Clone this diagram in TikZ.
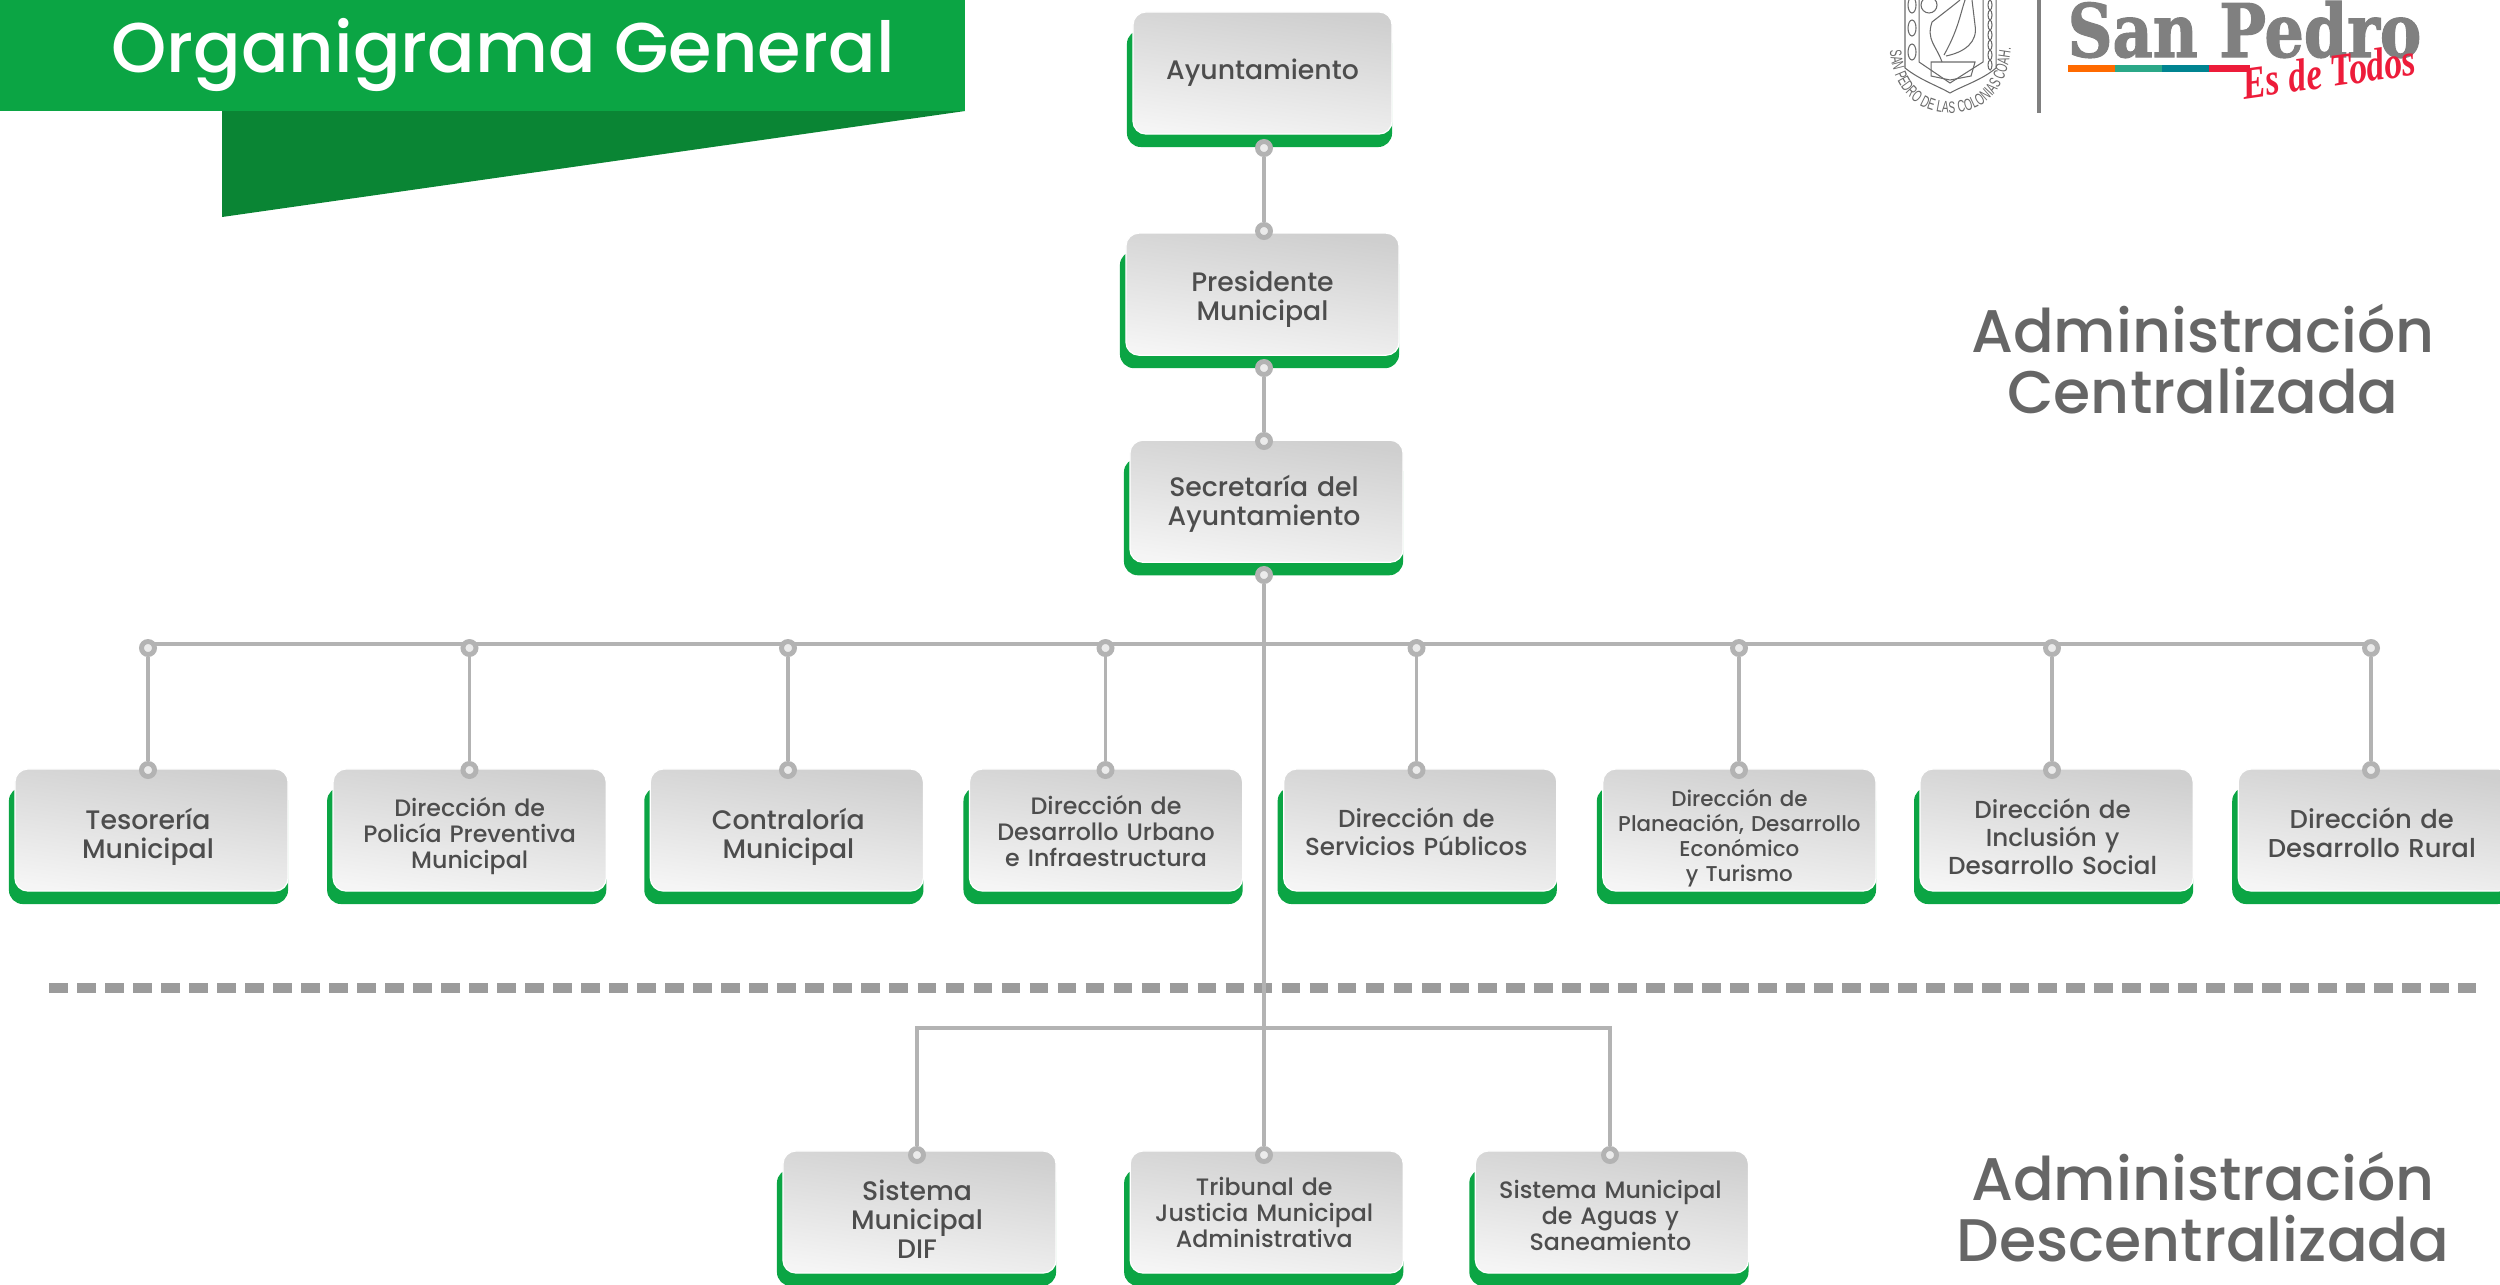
\documentclass[tikz,border=0pt]{standalone}
\usepackage{fontspec}
\setmainfont{Poppins Medium}
\newfontfamily\slabfont[FakeStretch=0.84,FakeBold=1.5]{DejaVu Serif}
\newfontfamily\todosfont[FakeStretch=0.78]{Liberation Serif}
\newfontfamily\sealfont[FakeStretch=0.62]{Liberation Sans}
\usepackage{xcolor}
\usetikzlibrary{positioning, calc, backgrounds, decorations.text}
\definecolor{sanpgreen}{HTML}{0BA544}
\definecolor{sanpdark}{HTML}{0A8534}
\definecolor{cardtext}{HTML}{4D4D4D}
\definecolor{linegray}{HTML}{B3B3B3}
\definecolor{dashgray}{HTML}{9B9B9B}
\definecolor{labelgray}{HTML}{666666}
\definecolor{logogray}{HTML}{808080}
\definecolor{logored}{HTML}{ED1C3A}
\definecolor{logoorange}{HTML}{FF6A00}
\definecolor{logoteal}{HTML}{2BA888}
\definecolor{logopetrol}{HTML}{008491}
\definecolor{sealgray}{HTML}{6A6A6A}
\tikzset{
    card/.style={draw=white, line width=0.35pt, rounded corners=0.13cm, outer sep=0pt, shade, shading=axis,
        top color=black!19, bottom color=black!4, shading angle=-8, text=cardtext,
        minimum width=2.73cm, minimum height=1.22cm, inner xsep=0pt, inner ysep=0pt, align=center},
    cardL/.style={card, font=\fontsize{7.6}{8.25}\selectfont},
    cardR/.style={card, font=\fontsize{7.35}{8.2}\selectfont},
    cardM/.style={card, font=\fontsize{7}{7.9}\selectfont},
    cardS/.style={card, font=\fontsize{6.75}{7.4}\selectfont},
    cardXS/.style={card, font=\fontsize{6.1}{7.1}\selectfont},
    cardpos/.style 2 args={text width=2.73cm, execute at begin node={\advance\rightskip by #1\rule{0pt}{#2}}},
    dot/.style={circle, draw=linegray, line width=1.4pt, fill=black!8, minimum size=0.13cm, inner sep=0pt},
    link/.style={draw=linegray, line width=1.1pt},
    biglabel/.style={text=labelgray, align=center, font=\fontsize{17.1}{17.4}\selectfont},
    sealline/.style={draw=sealgray, line width=0.3pt}
}
\begin{document}
\begin{tikzpicture}[x=0.01cm, y=-0.01cm]
    \useasboundingbox (0,0) rectangle (2500,1284);

    % banner
    \fill[sanpdark] (222,111) -- (965,111) -- (222,217) -- cycle;
    \fill[sanpgreen] (0,0) rectangle (965,111);
    \node[text=white, font=\fontsize{20}{22}\selectfont, anchor=base] (title) at (503,72) {Organigrama General};

    % seal
    \draw[sealline] (1905,0) -- (1905,68) .. controls (1920,80) and (1938,86) .. (1950,93) .. controls (1962,86) and (1982,80) .. (1996,68) -- (1996,0);
    \draw[sealline] (1919,0) -- (1919,62) -- (1950,83) -- (1983,62) -- (1983,0);
    \draw[sealline] (1929,5) circle (8);
    \draw[sealline] (1942,62) .. controls (1936,45) and (1926,40) .. (1932,22) -- (1950,8) -- (1960,0);
    \draw[sealline] (1944,55) .. controls (1958,30) and (1960,15) .. (1965,0);
    \draw[sealline] (1946,56) .. controls (1965,52) and (1978,42) .. (1975,25) -- (1972,0);
    \draw[sealline] (1931,62) -- (1975,62) -- (1971,76) -- (1950,80) -- (1931,76) -- cycle;
    \foreach \sy in {5,28,52} \draw[sealline] (1912,\sy) ellipse (4 and 8);
    \foreach \sy in {5,15,...,65} \draw[sealline] (1990,\sy) ellipse (2 and 5);
    \path[decorate, decoration={text along path, text align={fit to path},
        text={|\sealfont\fontsize{4.7}{5}\selectfont\color{sealgray}|SAN PEDRO DE LAS COLONIAS COAH.}}]
        (1890,50) .. controls (1893,98) and (1925,113) .. (1950,113) .. controls (1978,113) and (2006,98) .. (2011,48);
    \fill[logogray] (2037,0) rectangle (2041,113);

    % logo
    \node[text=logogray, font=\slabfont\bfseries\fontsize{21}{22}\selectfont, anchor=base west, inner sep=0pt] (sanpedro) at (2067,57) {San Pedro};
    \fill[logoorange] (2068,65) rectangle (2115,72);
    \fill[logoteal] (2115,65) rectangle (2162,72);
    \fill[logopetrol] (2162,65) rectangle (2209,72);
    \fill[logored] (2209,65) rectangle (2250,72);
    \node[text=logored, font=\todosfont\bfseries\itshape\fontsize{13}{14}\selectfont, anchor=base, inner sep=0pt, rotate=8] (todos) at (2331,87) {Es de Todos};

    % labels
    \node[biglabel] (central) at (2203,359) {Administración\\Centralizada};
    \node[biglabel] (descent) at (2203,1207) {Administración\\Descentralizada};

    % upper boxes
    \node[cardL, minimum width=2.59cm] (ayto) at (1262.5,73) {Ayuntamiento};
    \node[cardL, cardpos={0cm}{0.31cm}, below=0.99cm of ayto] (presi) {Presidente\\Municipal};
    \node[cardL, cardpos={0.05cm}{0.27cm}, below=0.85cm of presi, xshift=0.04cm] (secre) {Secretaría del\\Ayuntamiento};

    % row of direcciones
    \node[cardL, cardpos={0.07cm}{0.34cm}] (tes) at (151.5,830) {Tesorería\\Municipal};
    \node[cardS, cardpos={0cm}{0.32cm}, right=0.45cm of tes] (poli) {Dirección de\\Policía Preventiva\\Municipal};
    \node[cardL, cardpos={-0.03cm}{0.34cm}, right=0.44cm of poli] (contra) {Contraloría\\Municipal};
    \node[cardS, cardpos={0cm}{0.22cm}, right=0.46cm of contra] (urbano) {Dirección de\\Desarrollo Urbano\\e Infraestructura};
    \node[cardM, cardpos={0.08cm}{0.23cm}, right=0.41cm of urbano] (servi) {Dirección de\\Servicios Públicos};
    \node[cardXS, cardpos={0cm}{0.33cm}, right=0.46cm of servi] (plane) {Dirección de\\Planeación, Desarrollo\\Económico\\y Turismo};
    \node[cardM, cardpos={0.08cm}{0.33cm}, right=0.44cm of plane] (inclu) {Dirección de\\Inclusión y\\Desarrollo Social};
    \node[cardR, cardpos={0.06cm}{0.26cm}, right=0.45cm of inclu] (rural) {Dirección de\\Desarrollo Rural};

    % lower boxes
    \node[cardL, cardpos={0.05cm}{0.34cm}] (dif) at (919.5,1212) {Sistema\\Municipal\\DIF};
    \node[cardS, cardpos={0.05cm}{0.2cm}, right=0.74cm of dif] (tribu) {Tribunal de\\Justicia Municipal\\Administrativa};
    \node[cardS, cardpos={0.03cm}{0.25cm}, right=0.72cm of tribu] (aguas) {Sistema Municipal\\de Aguas y\\Saneamiento};

    % green under the boxes
    \begin{pgfonlayer}{background}
        \foreach \n in {ayto,presi,secre,tes,poli,contra,urbano,servi,plane,inclu,rural,dif,tribu,aguas}
            \fill[sanpgreen, rounded corners=0.14cm] ($(\n.north west)+(-6,18)$) rectangle ($(\n.south east)+(0,13)$);
    \end{pgfonlayer}

    % dashed divider
    \draw[dashgray, line width=2.65pt, dash pattern=on 0.187cm off 0.093cm] (49,988) -- (2476,988);

    % links
    \node[dot] (aytoD) at (1264,148) {};
    \node[dot] (presiU) at (1264,231) {};
    \node[dot] (presiD) at (1264,368) {};
    \node[dot] (secreU) at (1264,441) {};
    \node[dot] (secreD) at (1264,575) {};
    \draw[link] (aytoD) -- (presiU);
    \draw[link] (presiD) -- (secreU);

    \coordinate (busL) at (148,644);
    \coordinate (busR) at (2371,644);
    \coordinate (lowL) at (917,1028);
    \coordinate (lowR) at (1610,1028);
    \draw[link] (busL) -- (busR);

    \foreach \n/\ox in {tes/148,poli/469.5,contra/788,urbano/1105.5,servi/1416.5,plane/1739,inclu/2052,rural/2371} {
        \node[dot] (\n U) at (\ox,648) {};
        \node[dot] (\n D) at (\ox,770) {};
        \draw[link] (\n U) -- (\n D);
    }
    \node[dot] (difD) at (917,1155) {};
    \node[dot] (tribuD) at (1264,1155) {};
    \node[dot] (aguasD) at (1610,1155) {};
    \draw[link] (difD) -- (lowL) -- (lowR) -- (aguasD);
    \draw[link] (secreD) -- (tribuD);
\end{tikzpicture}
\end{document}
